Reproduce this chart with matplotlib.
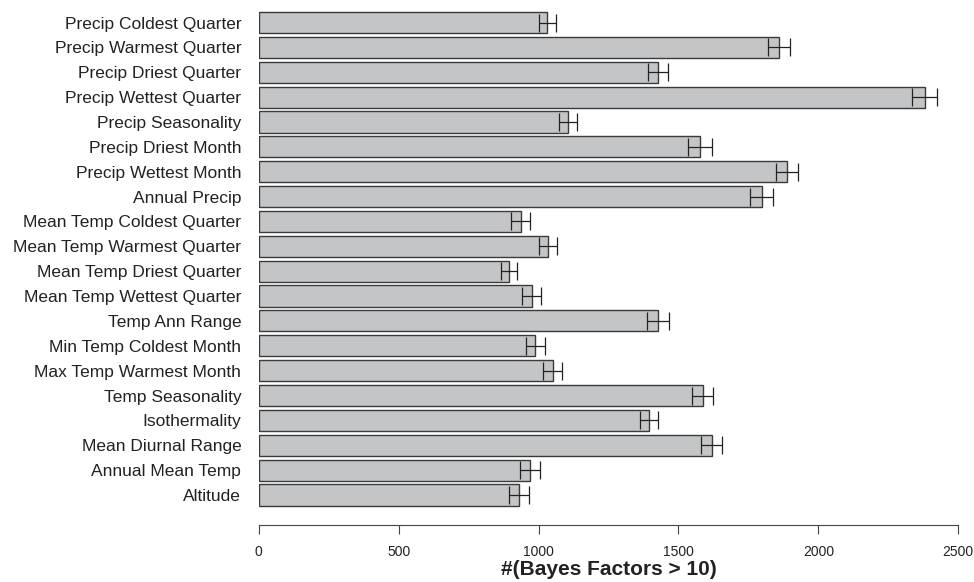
import matplotlib
matplotlib.use("Agg")
import matplotlib.pyplot as plt
import numpy as np

# climate variables, listed bottom -> top as drawn
variables = [
    "Altitude",
    "Annual Mean Temp",
    "Mean Diurnal Range",
    "Isothermality",
    "Temp Seasonality",
    "Max Temp Warmest Month",
    "Min Temp Coldest Month",
    "Temp Ann Range",
    "Mean Temp Wettest Quarter",
    "Mean Temp Driest Quarter",
    "Mean Temp Warmest Quarter",
    "Mean Temp Coldest Quarter",
    "Annual Precip",
    "Precip Wettest Month",
    "Precip Driest Month",
    "Precip Seasonality",
    "Precip Wettest Quarter",
    "Precip Driest Quarter",
    "Precip Warmest Quarter",
    "Precip Coldest Quarter",
]
n_bf = [930, 969, 1619, 1395, 1586, 1050, 989, 1426, 976, 894,
        1034, 936, 1797, 1887, 1577, 1106, 2380, 1427, 1859, 1032]
n_bf_err = [37, 35, 37, 33, 38, 33, 35, 40, 34, 29,
            32, 35, 40, 40, 44, 33, 44, 36, 40, 32]
x_ticks = [0, 500, 1000, 1500, 2000, 2500]

plt.rcParams["font.family"] = ["Liberation Sans", "DejaVu Sans"]

fig = plt.figure(figsize=(9.74, 5.82), dpi=100)
W, H = 974, 582
left_px, right_px = 258.7, 958.3
top_px, bot_px = 0, 525
ax = fig.add_axes([left_px / W, (H - bot_px) / H,
                   (right_px - left_px) / W, (bot_px - top_px) / H])

ypos = np.arange(len(variables))
ax.barh(ypos, n_bf, height=0.85, color="#c4c5c7", edgecolor="#3a3a3a",
        linewidth=1.0, zorder=2)
ax.errorbar(n_bf, ypos, xerr=n_bf_err, fmt="none", ecolor="#222222",
            elinewidth=0.9, capsize=6.5, capthick=0.9, zorder=3)

ax.set_xlim(0, 2500)
ax.set_ylim(-1.206, len(variables) - 1 + 0.905)
ax.set_yticks(ypos)
ax.set_yticklabels(variables, fontsize=12.5, color="#222222")
ax.tick_params(axis="y", length=0, pad=12.5)

ax.set_xticks(x_ticks)
ax.set_xticklabels([str(t) for t in x_ticks], fontsize=10, color="#222222")
ax.tick_params(axis="x", length=6.5, width=0.8, color="#444444", pad=8)

for side in ["top", "right", "left"]:
    ax.spines[side].set_visible(False)
ax.spines["bottom"].set_color("#444444")
ax.spines["bottom"].set_linewidth(0.8)

ax.set_xlabel("#(Bayes Factors > 10)", fontsize=15, fontweight="bold",
              color="#222222", labelpad=0.5)

fig.savefig("out.png", dpi=100)
